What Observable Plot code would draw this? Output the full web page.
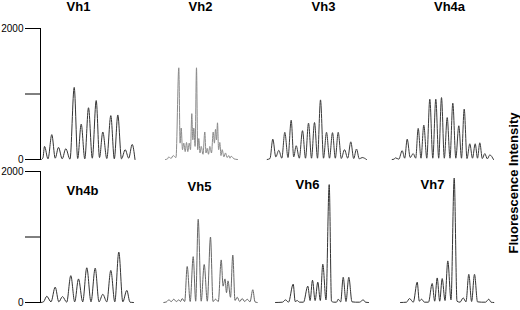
<!DOCTYPE html>
<html><head><meta charset="utf-8">
<script src="https://cdn.jsdelivr.net/npm/d3@7"></script>
<script src="https://cdn.jsdelivr.net/npm/@observablehq/plot@0.6"></script>
<style>
body{margin:0;background:#fff;}
#wrap{position:relative;width:520px;height:310px;font-family:"Liberation Sans",Arial,sans-serif;background:#fff;}
#wrap svg{position:absolute;left:0;top:0;}
#ylab{position:absolute;left:513px;top:183px;transform:translate(-50%,-50%) rotate(-90deg);font-weight:bold;font-size:13px;white-space:nowrap;color:#000;}
</style></head>
<body><div id="wrap"><div id="ylab">Fluorescence Intensity</div></div>
<script>
// Panel names (row-major, 4 columns x 2 rows)
const panels = ["Vh1","Vh2","Vh3","Vh4a","Vh4b","Vh5","Vh6","Vh7"];
const yTicks = [0, 1000, 2000];
const yLabelTitle = "Fluorescence Intensity";

// Trace vertices: [relative position, intensity]
const vh1 = [[1,0],[2.5,30],[4,200],[7.5,10],[11.3,380],[14.7,20],[18,185],[21.7,10],[25.3,165],[29.5,5],[33.7,1100],[37.2,15],[40.7,540],[44.3,10],[48,790],[51.8,20],[55.7,900],[59,30],[62.3,420],[66.3,15],[70.3,670],[73.8,10],[77.3,680],[81,10],[84.7,150],[88.2,20],[91.7,230],[94.5,0]];
const vh2 = [[12,0],[14,10],[15.3,40],[17.5,15],[19.7,60],[22.5,30],[25.3,1400],[26.6,250],[27.7,480],[29,150],[30.3,250],[31.7,120],[33,260],[34.3,120],[35.7,250],[37,150],[38.3,700],[39.3,300],[40.3,480],[41.6,200],[43,1400],[44.2,150],[45.3,320],[46.5,100],[47.7,200],[49.5,80],[51.3,420],[52.5,100],[53.7,170],[55,80],[56.3,200],[58,100],[59.7,420],[60.9,250],[62,460],[63,300],[64,560],[65.1,150],[66.3,260],[67.5,60],[68.7,150],[70.4,40],[72,100],[73.6,30],[75.3,60],[76.5,20],[77.7,50],[80.5,10],[84,0]];
const vh3 = [[0.7,0],[3.5,15],[6.3,310],[9.3,40],[12.3,140],[15.3,20],[18.3,415],[21.5,30],[24.7,600],[27.2,40],[29.7,210],[32.8,20],[36,440],[39,20],[42,555],[45,20],[48,565],[51,20],[54,910],[57,20],[60,415],[63,20],[66,410],[68.8,20],[71.7,415],[74.8,15],[78,150],[81.2,20],[84.3,270],[87.2,15],[90,160],[92.8,10],[95.7,30],[100,0]];
const vh4a = [[12.7,0],[14.5,5],[16,25],[19.3,5],[22.7,135],[25.2,20],[27.7,310],[30.7,30],[33.7,90],[36.2,20],[38.7,475],[41.5,20],[44.3,525],[47.3,20],[50.3,920],[53.3,20],[56.3,920],[59.2,20],[62,945],[64.8,20],[67.7,640],[70.5,20],[73.3,860],[76.3,20],[79.3,515],[82,20],[84.7,770],[87.5,15],[90.3,240],[93,20],[95.7,240],[98,20],[100.3,255],[102.8,15],[105.3,90],[107.8,10],[110.3,70],[114,0]];
const vh4b = [[0.5,0],[3,10],[6.3,95],[10.5,10],[14.7,235],[18.3,10],[22,90],[26.2,5],[30.3,410],[34.2,10],[38,360],[42.2,10],[46.3,530],[50.5,10],[54.7,525],[58.5,10],[62.3,125],[66.3,10],[70.3,490],[74.3,10],[78.3,770],[82.3,10],[86.3,185],[89.5,5],[93,0]];
const vh5 = [[10.3,0],[13,10],[15.3,40],[17.8,15],[20.3,50],[22.8,15],[25.3,40],[27,15],[28.7,60],[31.2,15],[33.7,550],[36.7,15],[39.7,700],[42.2,20],[44.7,1270],[47.7,20],[50.7,580],[53.8,20],[57,1000],[59.5,15],[62,50],[64.8,15],[67.7,650],[69.6,250],[71.5,360],[73,150],[74.5,330],[77,80],[79.3,725],[81.5,30],[83.7,80],[86.2,15],[88.7,60],[91.2,15],[93.7,50],[96.5,10],[99.3,195],[101.5,10],[103.7,0]];
const vh6 = [[9,0],[16,5],[19,40],[22,5],[26.7,280],[28.7,15],[30.7,30],[33,5],[37,5],[41.3,250],[43.6,30],[46,340],[48.6,30],[51.3,310],[53.8,30],[56.3,585],[59.5,40],[62.7,1800],[65,20],[67.3,5],[70,5],[71.7,50],[74.2,10],[76.7,385],[79.5,15],[82.3,385],[85.5,10],[89,5],[93,5],[96.7,40],[99,5],[102,0]];
const vh7 = [[21,0],[27,5],[30,60],[33.8,5],[37.7,310],[39.8,20],[42,50],[45,5],[49,5],[52.7,290],[55.2,20],[57.7,375],[60.2,20],[62.7,365],[65.5,30],[68.3,635],[71.5,40],[74.7,1900],[77.5,20],[80.5,5],[83.7,70],[86.5,10],[89.3,430],[92.1,15],[95,430],[98,10],[102,5],[106,5],[109.3,50],[111.5,5],[114.3,0]];
const traces = [vh1, vh2, vh3, vh4a, vh4b, vh5, vh6, vh7];

// Layout (not data): title anchor in panel coordinates, stroke tone
const titleX = [38, 47, 57, 70, 42, 46, 41, 53];
const titleY = [2330, 2330, 2330, 2330, 1700, 1760, 1790, 1790];
const strokeTone = ["#333","#8a8a8a","#3a3a3a","#3a3a3a","#333","#666","#333","#333"];

const rowName = i => (i < 4 ? "top" : "bottom");
const records = [];
traces.forEach((t, i) => t.forEach(([x, y]) => records.push({panel: panels[i], col: i % 4, row: rowName(i), x, y, stroke: strokeTone[i]})));
const titles = panels.map((p, i) => ({panel: p, col: i % 4, row: rowName(i), x: titleX[i], y: titleY[i]}));

const chart = Plot.plot({
  width: 520, height: 310,
  marginTop: 28, marginBottom: 7, marginLeft: 40, marginRight: 28,
  fx: {domain: [0,1,2,3], padding: 0, axis: null},
  fy: {domain: ["top","bottom"], paddingInner: 0.083, paddingOuter: 0, axis: null},
  x: {domain: [0, 113], axis: null},
  y: {domain: [0, 2000]},
  color: {type: "identity"},
  style: {fontFamily: "'Liberation Sans', Arial, sans-serif", fontSize: "10px", background: "white", color: "black"},
  marks: [
    Plot.frame({anchor: "left", facetAnchor: "left"}),
    Plot.axisY({facetAnchor: "left", ticks: yTicks, tickFormat: d => d === 1000 ? "" : String(d), tickSize: 15, tickPadding: 2, fontSize: 10, label: null}),
    Plot.line(records, {x: "x", y: "y", fx: "col", fy: "row", z: "panel", stroke: "stroke", strokeWidth: 1, curve: "monotone-x"}),
    Plot.text(titles, {x: "x", y: "y", fx: "col", fy: "row", text: "panel", fontWeight: "bold", fontSize: 13})
  ]
});
document.getElementById("wrap").prepend(chart);
</script>
</body></html>
